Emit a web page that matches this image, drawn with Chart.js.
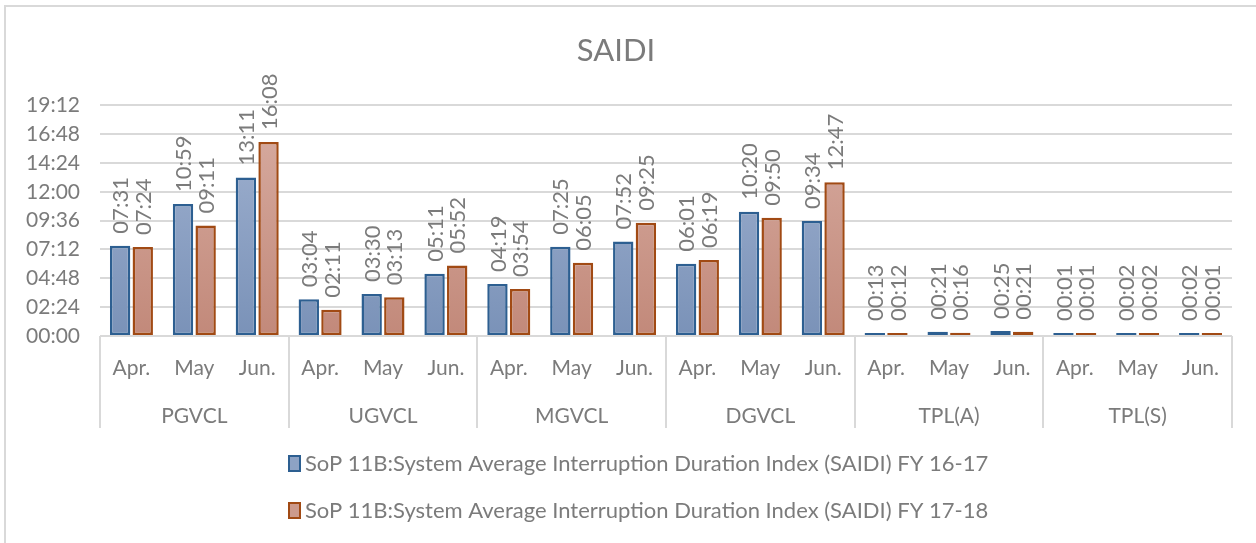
<!DOCTYPE html>
<html>
<head>
<meta charset="utf-8">
<script src="https://cdn.jsdelivr.net/npm/chart.js@4.4.0/dist/chart.umd.min.js"></script>
<style>
  html, body { margin: 0; padding: 0; background: #fff; }
  #wrap { position: relative; width: 1256px; height: 543px; overflow: hidden; }
  #frame { position: absolute; left: 4px; top: 5px; width: 1260px; height: 560px;
           border-left: 2px solid #d9d9d9; border-top: 2px solid #d9d9d9; box-sizing: border-box; }
  canvas { position: absolute; left: 0; top: 0; }
</style>
</head>
<body>
<div id="wrap">
  <div id="frame"></div>
  <canvas id="saidiChart" width="1256" height="543"></canvas>
</div>
<script>
// categories
const groups = ['PGVCL', 'UGVCL', 'MGVCL', 'DGVCL', 'TPL(A)', 'TPL(S)'];
const months = ['Apr.', 'May', 'Jun.'];

// SAIDI values (hh:mm) per group, Apr/May/Jun
const fy1617 = ['07:31', '10:59', '13:11',  '03:04', '03:30', '05:11',
                '04:19', '07:25', '07:52',  '06:01', '10:20', '09:34',
                '00:13', '00:21', '00:25',  '00:01', '00:02', '00:02'];
const fy1718 = ['07:24', '09:11', '16:08',  '02:11', '03:13', '05:52',
                '03:54', '06:05', '09:25',  '06:19', '09:50', '12:47',
                '00:12', '00:16', '00:21',  '00:01', '00:02', '00:01'];

const seriesNames = [
    'SoP 11B:System Average Interruption Duration Index (SAIDI) FY 16-17',
    'SoP 11B:System Average Interruption Duration Index (SAIDI) FY 17-18'
];

const FONT = 'Lato';
const TXT = '#7b7b7b';

function toMin(s){
    const p = s.split(':');
    return parseInt(p[0], 10) * 60 + parseInt(p[1], 10);
}
function fmt(m){
    const h = Math.floor(m / 60), mm = Math.round(m % 60);
    return String(h).padStart(2, '0') + ':' + String(mm).padStart(2, '0');
}

const labels = [];
groups.forEach(() => months.forEach(m => labels.push(m)));

function grad(top, bottom){
    return function(c){
        const area = c.chart.chartArea;
        if(!area) return bottom;
        const g = c.chart.ctx.createLinearGradient(0, area.top, 0, area.bottom);
        g.addColorStop(0, top);
        g.addColorStop(1, bottom);
        return g;
    };
}

const barLabels = {
    id: 'barLabels',
    afterDatasetsDraw(chart){
        const ctx = chart.ctx;
        const src = [fy1617, fy1718];
        ctx.save();
        ctx.fillStyle = TXT;
        ctx.font = '22px ' + FONT;
        ctx.textAlign = 'left';
        ctx.textBaseline = 'middle';
        chart.data.datasets.forEach((ds, di) => {
            chart.getDatasetMeta(di).data.forEach((bar, i) => {
                ctx.save();
                ctx.translate(bar.x + 1, bar.y - 12);
                ctx.rotate(-Math.PI / 2);
                ctx.fillText(src[di][i], 0, 0);
                ctx.restore();
            });
        });
        ctx.restore();
    }
};

const groupAxis = {
    id: 'groupAxis',
    afterDraw(chart){
        const ctx = chart.ctx;
        const x = chart.scales.x;
        const bottom = chart.chartArea.bottom;
        const half = (x.getPixelForValue(1) - x.getPixelForValue(0)) / 2;
        ctx.save();
        ctx.strokeStyle = '#d9d9d9';
        ctx.lineWidth = 2;
        for(let g = 0; g <= groups.length; g++){
            const px = Math.round(x.getPixelForValue(g * 3) - half);
            ctx.beginPath();
            ctx.moveTo(px, bottom);
            ctx.lineTo(px, bottom + 92);
            ctx.stroke();
        }
        ctx.fillStyle = TXT;
        ctx.font = '21px ' + FONT;
        ctx.textAlign = 'center';
        ctx.textBaseline = 'middle';
        groups.forEach((g, i) => {
            ctx.fillText(g, x.getPixelForValue(i * 3 + 1), bottom + 80);
        });

        // legend, two rows
        const cols = [['#8da2c4', '#2d5f91'], ['#cc9a8c', '#a14a14']];
        ctx.font = '22px ' + FONT;
        ctx.textAlign = 'left';
        seriesNames.forEach((name, i) => {
            const y = 464 + i * 47;
            ctx.fillStyle = cols[i][0];
            ctx.fillRect(289, y - 8, 11, 15);
            ctx.strokeStyle = cols[i][1];
            ctx.lineWidth = 2;
            ctx.strokeRect(289, y - 8, 11, 15);
            ctx.fillStyle = TXT;
            ctx.fillText(name, 305, y);
        });
        ctx.restore();
    }
};

const chart = new Chart(document.getElementById('saidiChart').getContext('2d'), {
    type: 'bar',
    data: {
        labels: labels,
        datasets: [
            {label: seriesNames[0], data: fy1617.map(toMin),
             backgroundColor: grad('#a2b3d1', '#7a92b8'), borderColor: '#2d5f91', borderWidth: 2.5},
            {label: seriesNames[1], data: fy1718.map(toMin),
             backgroundColor: grad('#d8ada2', '#c2897a'), borderColor: '#a14a14', borderWidth: 2.5}
        ]
    },
    options: {
        responsive: false,
        animation: false,
        layout: {padding: {left: 0, right: 24, top: 0, bottom: 110}},
        datasets: {bar: {categoryPercentage: 0.72, barPercentage: 0.9, minBarLength: 3, borderSkipped: false}},
        plugins: {
            legend: {display: false},
            tooltip: {enabled: false},
            title: {display: true, text: 'SAIDI', color: TXT,
                    font: {family: FONT, size: 31, weight: 'normal'},
                    padding: {top: 32, bottom: 36}}
        },
        scales: {
            x: {
                grid: {display: false, drawTicks: false},
                border: {display: false},
                ticks: {color: TXT, font: {family: FONT, size: 21}, padding: 20,
                        autoSkip: false, maxRotation: 0},
                afterFit: s => { s.height = 97; }
            },
            y: {
                min: 0, max: 1152,
                grid: {color: '#d9d9d9', lineWidth: 2, drawTicks: false},
                border: {display: false},
                ticks: {stepSize: 144, color: TXT, font: {family: FONT, size: 21}, padding: 20,
                        callback: v => fmt(v)},
                afterFit: s => { s.width = 100; }
            }
        }
    },
    plugins: [barLabels, groupAxis]
});
</script>
</body>
</html>
